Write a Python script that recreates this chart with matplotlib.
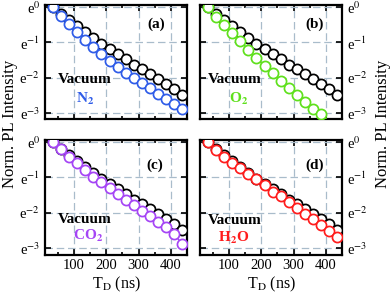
import numpy as np
import matplotlib
matplotlib.use("Agg")
import matplotlib.pyplot as plt
from matplotlib.ticker import FixedLocator, MultipleLocator, NullFormatter

plt.rcParams["font.family"] = ["Liberation Serif", "DejaVu Serif"]
plt.rcParams["mathtext.fontset"] = "stix"

# delay time (ns)
t_delay = [35, 60, 85, 110, 135, 160, 185, 210, 235, 260, 285, 310, 335, 360, 385, 410, 435]

# ln of normalized PL intensity
vacuum_ln = [0, -0.18, -0.36, -0.53, -0.69, -0.86, -1.03, -1.18, -1.33, -1.48,
             -1.63, -1.76, -1.89, -2.03, -2.17, -2.32, -2.49]
n2_ln = [0, -0.25, -0.48, -0.71, -0.93, -1.12, -1.33, -1.52, -1.69, -1.86,
         -2.02, -2.16, -2.30, -2.46, -2.61, -2.74, -2.89]
o2_ln = [0, -0.27, -0.51, -0.74, -0.96, -1.20, -1.45, -1.67, -1.88, -2.09,
         -2.29, -2.49, -2.69, -2.88, -3.03, -3.25, -3.46]
co2_ln = [0, -0.19, -0.41, -0.60, -0.79, -0.98, -1.14, -1.31, -1.48, -1.65,
          -1.79, -1.95, -2.10, -2.26, -2.42, -2.62, -2.88]
h2o_ln = [0, -0.22, -0.41, -0.60, -0.73, -0.90, -1.05, -1.21, -1.40, -1.53,
          -1.71, -1.88, -2.05, -2.19, -2.35, -2.53, -2.70]

panels = [
    ("(a)", "N$_\\mathbf{2}$", n2_ln, "#2f5ce8"),
    ("(b)", "O$_\\mathbf{2}$", o2_ln, "#5fe01c"),
    ("(c)", "CO$_\\mathbf{2}$", co2_ln, "#a545f5"),
    ("(d)", "H$_\\mathbf{2}$O", h2o_ln, "#ff1c1c"),
]

ytick_pos = [0, -1, -2, -3]
ytick_lab = ["e$^{0}$", "e$^{-1}$", "e$^{-2}$", "e$^{-3}$"]

fig = plt.figure(figsize=(3.92, 3.06), dpi=100)
W, H = 392.0, 306.0
boxes = [(45, 5), (200, 5), (45, 140), (200, 140)]
text_pos = [
    ((0.09, 0.345), (0.28, 0.18), (0.78, 0.83)),
    ((0.054, 0.345), (0.27, 0.18), (0.81, 0.83)),
    ((0.09, 0.31), (0.30, 0.165), (0.77, 0.78)),
    ((0.056, 0.30), (0.24, 0.145), (0.81, 0.78)),
]

t = np.array(t_delay)
ylo, yhi = -3.19, 0.066
for i, (tag, gas, gas_ln, col) in enumerate(panels):
    x0, y0 = boxes[i]
    ax = fig.add_axes([x0 / W, 1 - (y0 + 114.5) / H, 142 / W, 114.5 / H])
    ax.set_yscale("log", base=np.e)
    vac = np.exp(vacuum_ln)
    g = np.exp(gas_ln)
    ax.plot(t, vac, "-", color="black", lw=1.0, marker="o", ms=7.3,
            mfc="white", mec="black", mew=1.25, zorder=3)
    inside = np.array(gas_ln) >= ylo + 0.05
    ax.plot(t, g, "-", color=col, lw=1.0, zorder=4)
    ax.plot(t[inside], g[inside], "o", ms=7.3, mfc="white", mec=col, mew=1.25, zorder=4)
    ax.set_xlim(10, 450)
    ax.set_ylim(np.exp(ylo), np.exp(yhi))
    ax.yaxis.set_major_locator(FixedLocator(np.exp(ytick_pos)))
    ax.yaxis.set_minor_locator(FixedLocator([]))
    ax.yaxis.set_minor_formatter(NullFormatter())
    ax.set_yticklabels(ytick_lab)
    ax.xaxis.set_major_locator(FixedLocator([100, 200, 300, 400]))
    ax.xaxis.set_minor_locator(MultipleLocator(50))
    ax.grid(True, which="major", color="#a9bccb", ls=(0, (6, 3)), lw=0.9)
    ax.tick_params(which="both", direction="in", top=True, right=True,
                   width=1.2, labelsize=10.5)
    ax.tick_params(which="major", length=4)
    ax.tick_params(which="minor", length=2.5)
    for s in ax.spines.values():
        s.set_linewidth(1.6)
    if i < 2:
        ax.set_xticklabels([])
    else:
        ax.set_xlabel("T$_\\mathrm{D}$ (ns)", fontsize=11.5, labelpad=2)
    if i % 2 == 1:
        ax.yaxis.tick_right()
        ax.tick_params(which="both", left=True, right=True)
    (vx, vy), (gx, gy), (lx, ly) = text_pos[i]
    ax.text(vx, vy, "Vacuum", transform=ax.transAxes, fontsize=11,
            fontweight="bold", ha="left", va="center")
    ax.text(gx, gy, gas, transform=ax.transAxes, fontsize=11,
            fontweight="bold", color=col, ha="center", va="center")
    ax.text(lx, ly, tag, transform=ax.transAxes, fontsize=11,
            fontweight="bold", ha="center", va="center")

fig.text(10 / W, 1 - 124 / H, "Norm. PL Intensity", rotation=90, fontsize=12,
         ha="center", va="center")
fig.text(383 / W, 1 - 124 / H, "Norm. PL Intensity", rotation=90, fontsize=12,
         ha="center", va="center")

plt.savefig("out.png", dpi=100)
